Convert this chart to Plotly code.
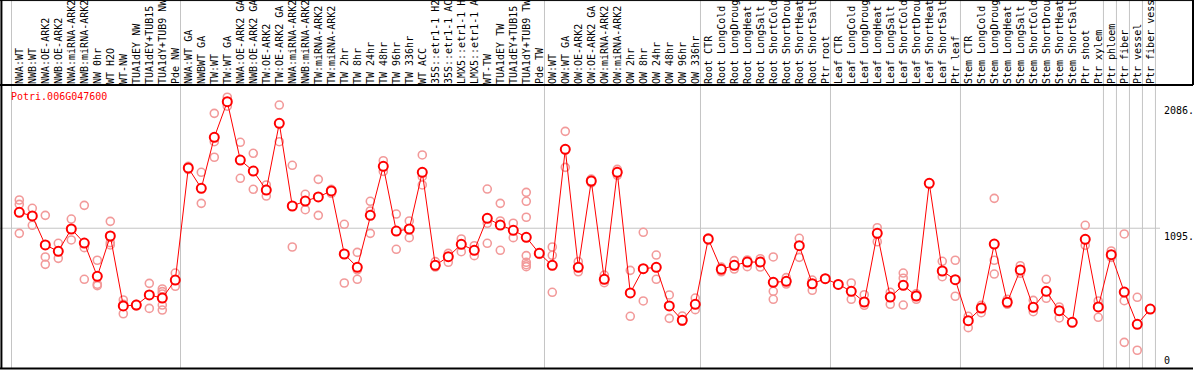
import plotly.graph_objects as go

# ---------------- data ----------------
labels_g1 = ["NWA:WT", "NWB:WT", "NWA:OE-ARK2", "NWB:OE-ARK2", "NWA:miRNA-ARK2", "NWB:miRNA-ARK2",
             "NW 0hr", "WT H2O", "WT-NW", "TUA1dEY NW", "TUA1dEY+TUB15", "TUA1dY+TUB9 NW", "Pde NW"]
labels_g2 = ["NWA:WT GA", "NWBWT GA", "TW:WT", "TW:WT GA", "NWA:OE-ARK2 GA", "NWB:OE-ARK2 GA",
             "TW:OE-ARK2", "TW:OE-ARK2 GA", "NWA:miRNA-ARK2", "NWB:miRNA-ARK2", "TW:miRNA-ARK2",
             "TW:miRNA-ARK2", "TW 2hr", "TW 8hr", "TW 24hr", "TW 48hr", "TW 96hr", "TW 336hr", "WT ACC",
             "35S::etr1-1 H2", "35S::etr1-1 AC", "LMX5::etr1-1 H", "LMX5::etr1-1 A", "WT-TW",
             "TUA1dEY TW", "TUA1dEY+TUB15", "TUA1dY+TUB9 TW", "Pde TW"]
labels_g3 = ["OW:WT", "OW:WT GA", "OW:OE-ARK2", "OW:OE-ARK2 GA", "OW:miRNA-ARK2", "OW:miRNA-ARK2",
             "OW 2hr", "OW 8hr", "OW 24hr", "OW 48hr", "OW 96hr", "OW 336hr"]
labels_g4 = ["Root CTR", "Root LongCold", "Root LongDroug", "Root LongHeat", "Root LongSalt",
             "Root ShortCold", "Root ShortDrou", "Root ShortHeat", "Root ShortSalt", "Ptr root"]
labels_g5 = ["Leaf CTR", "Leaf LongCold", "Leaf LongDroug", "Leaf LongHeat", "Leaf LongSalt",
             "Leaf ShortCold", "Leaf ShortDrou", "Leaf ShortHeat", "Leaf ShortSalt", "Ptr leaf"]
labels_g6 = ["Stem CTR", "Stem LongCold", "Stem LongDroug", "Stem LongHeat", "Stem LongSalt",
             "Stem ShortCold", "Stem ShortDrou", "Stem ShortHeat", "Stem ShortSalt", "Ptr shoot", "Ptr xylem"]
labels_g7 = ["Ptr phloem"]
labels_g8 = ["Ptr fiber"]
labels_g9 = ["Ptr vessel"]
labels_g10 = ["Ptr fiber vess"]
groups = [labels_g1, labels_g2, labels_g3, labels_g4, labels_g5, labels_g6,
          labels_g7, labels_g8, labels_g9, labels_g10]

means = [1220, 1191, 964, 914, 1089, 979, 718, 1034, 486, 493, 572, 548, 689,
         1567, 1408, 1807, 2086, 1629, 1543, 1394, 1917, 1269, 1308, 1340, 1387, 893, 789, 1196,
         1580, 1073, 1089, 1533, 804, 872, 969, 922, 1173, 1120, 1079, 1024, 898,
         804, 1713, 789, 1465, 695, 1533, 588, 778, 789, 486, 374, 499,
         1011, 773, 804, 830, 830, 671, 679, 958, 660, 700,
         655, 601, 517, 1055, 556, 648, 564, 1447, 760, 692,
         371, 470, 971, 515, 768, 475, 601, 449, 358, 1008, 478,
         888, 595, 342, 462]

replicates = [
    [1316, 1282, 1055], [1251, 1118, 1191], [1196, 870, 812], [977, 859], [1167, 1003],
    [1274, 943, 695], [844, 656, 645], [1149, 982, 964], [533, 425, 500], [500, 486],
    [663, 467], [619, 598, 580, 493, 454], [744, 640],
    [1580, 1555], [1533, 1290], [1995, 1773, 1651], [2121, 2051], [1768, 1486], [1682, 1400],
    [1434, 1347, 1400], [2060, 1773], [1588, 948], [1361, 1240], [1478, 1196], [1400, 1369],
    [1126, 666], [906, 768, 695], [1306, 1230, 1055], [1624, 1540], [1206, 930], [1152, 1021],
    [1669, 1434, 1499], [833, 791], [898, 828], [1011, 911], [958, 880], [1402, 1134, 977],
    [1290, 1152, 922], [1134, 1021], [1376, 1306, 1181, 880, 828, 809, 794], [905, 890],
    [948, 883, 593], [1854, 1572], [833, 754], [1480, 1450], [728, 668], [1556, 1510],
    [765, 405], [1063, 525], [885, 695], [572, 389], [407, 366], [548, 457],
    [1020, 1000], [754, 790], [841, 775], [846, 794], [856, 791], [870, 601, 538], [708, 658],
    [1016, 867], [689, 609], [700, 700],
    [655, 655], [666, 538], [574, 491], [1099, 989], [593, 499], [744, 703, 493], [582, 538],
    [1447, 1447], [836, 715], [844, 562],
    [405, 316], [491, 433], [1329, 844, 736], [538, 499], [801, 742], [530, 441], [695, 546],
    [478, 392], [358, 358], [1118, 961], [525, 397],
    [917, 867], [1050, 527, 201], [554, 139], [462, 462],
]

gene_name = "Potri.006G047600"
ytick_vals = [0, 1095, 2086]
ytick_text = ["0", "1095.", "2086."]
y_max = 2217

# ---------------- build ----------------
labels = [lab for g in groups for lab in g]
xs = list(range(len(labels)))

rx, ry = [], []
for i, reps in enumerate(replicates):
    for v in reps:
        rx.append(i)
        ry.append(v)

RED = "#ff0000"
GRID = "#c4c4c4"
FONT = "DejaVu Sans Mono"

fig = go.Figure()
fig.add_trace(go.Scatter(
    x=rx, y=ry, mode="markers",
    marker=dict(symbol="circle-open", size=8, color="#f29a9a", line=dict(width=1.6, color="#f29a9a")),
    hoverinfo="skip"))
fig.add_trace(go.Scatter(
    x=xs, y=means, mode="lines+markers",
    line=dict(color=RED, width=1),
    marker=dict(symbol="circle", size=9, color="white", line=dict(width=2, color=RED))))

W, H = 1194, 370
ml, mr, mt, mb = 2, 34, 85, 2
plot_h = H - mt - mb
top_paper = (H - mb) / plot_h  # paper y of the figure top

shapes = []
# group separators
start = 0
bounds = [-0.6]
for g in groups:
    start += len(g)
    bounds.append(start - 0.6)
for b in bounds:
    shapes.append(dict(type="line", xref="x", yref="paper", x0=b, x1=b, y0=0, y1=top_paper,
                       line=dict(color=GRID, width=1), layer="below"))
# mid gridline
shapes.append(dict(type="line", xref="paper", yref="y", x0=-0.01, x1=1, y0=ytick_vals[1], y1=ytick_vals[1],
                   line=dict(color=GRID, width=1), layer="below"))
# frame
right_paper = (W - ml - 1) / (W - ml - mr)
shapes.append(dict(type="line", xref="paper", yref="paper", x0=-0.002, x1=right_paper, y0=1, y1=1,
                   line=dict(color="black", width=2)))
shapes.append(dict(type="line", xref="paper", yref="paper", x0=-0.002, x1=right_paper, y0=-0.002, y1=-0.002,
                   line=dict(color="black", width=2)))
shapes.append(dict(type="line", xref="paper", yref="paper", x0=-0.0005, x1=-0.0005, y0=-0.002, y1=top_paper,
                   line=dict(color="black", width=2)))
shapes.append(dict(type="line", xref="paper", yref="paper", x0=right_paper, x1=right_paper, y0=1, y1=top_paper,
                   line=dict(color="black", width=2)))
shapes.append(dict(type="line", xref="paper", yref="paper", x0=-0.002, x1=right_paper,
                   y0=top_paper - 0.002, y1=top_paper - 0.002, line=dict(color="black", width=1)))

annotations = [dict(text=gene_name, xref="paper", yref="paper", x=7 / (W - ml - mr), y=0.96,
                    xanchor="left", yanchor="middle", showarrow=False,
                    font=dict(family=FONT, size=10, color=RED))]
for v, t in zip(ytick_vals, ytick_text):
    annotations.append(dict(text=t, xref="paper", yref="y", x=1.0015, y=v,
                            xanchor="left", yanchor="bottom" if v == 0 else "top",
                            yshift=0 if v == 0 else -1, showarrow=False,
                            font=dict(family=FONT, size=10, color="black")))

fig.update_layout(
    width=W, height=H,
    margin=dict(l=ml, r=mr, t=mt, b=mb, pad=0),
    paper_bgcolor="white", plot_bgcolor="white",
    showlegend=False,
    xaxis=dict(range=[-1.331, 87.75], side="top", tickmode="array", tickvals=xs, ticktext=labels,
               tickangle=-90, tickfont=dict(family=FONT, size=10, color="black"),
               showgrid=False, zeroline=False, showline=False, ticks="", automargin=False),
    yaxis=dict(range=[0, y_max], showgrid=False, zeroline=False, showline=False,
               showticklabels=False, ticks="", automargin=False),
    shapes=shapes, annotations=annotations,
)

fig.write_html("out.html", config={"displayModeBar": False},
               post_script="document.body.style.margin='0';document.body.style.overflow='hidden';")
